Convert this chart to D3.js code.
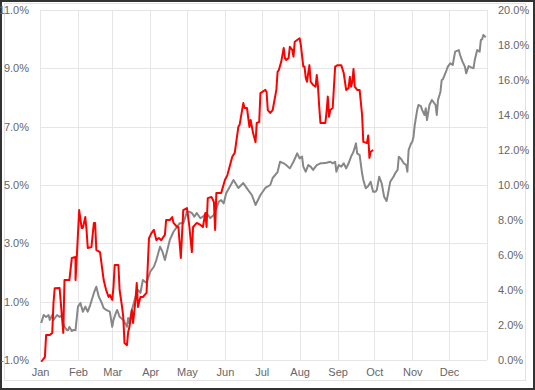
<!DOCTYPE html>
<html>
<head>
<meta charset="utf-8">
<script src="https://cdn.jsdelivr.net/npm/d3@7"></script>
<style>
  body { margin: 0; background: #fff; }
  svg { display: block; font-family: "Liberation Sans", Arial, sans-serif; }
</style>
</head>
<body>
<script>
var w = 535;
var h = 390;
var margin = {top: 10, right: 48, bottom: 30, left: 40};

// day of year (from Jan 1) and value in %
var redDays = [1,4,5,8,10,11,12,16,19,20,24,26,29,29,30,32,34,35,37,38,39,42,44,45,46,49,52,54,56,57,59,60,61,64,65,67,68,69,71,72,73,75,76,78,79,80,82,84,87,89,91,93,95,97,99,102,103,106,108,109,112,113,115,117,120,121,122,124,125,128,131,133,135,136,137,140,142,143,144,148,151,153,157,159,162,163,166,167,169,171,172,174,176,177,179,180,184,185,186,188,190,193,194,195,197,199,200,201,203,204,206,207,208,210,212,213,215,216,217,218,220,221,223,225,226,227,228,229,233,234,235,236,237,239,241,243,246,248,250,252,253,254,255,256,257,259,261,263,264,267,268,269,270,272];
var redValues = [-1.06,-0.90,-0.14,-0.14,-0.07,0.95,1.46,1.47,-0.07,1.74,1.74,2.50,2.53,1.74,2.50,4.14,3.53,3.53,3.90,3.46,2.84,2.87,3.70,3.70,2.77,2.70,1.74,1.40,1.16,1.23,1.06,1.50,2.26,2.26,1.40,0.82,0.47,-0.42,-0.49,-0.04,0.13,0.71,0.27,1.06,1.64,0.82,1.16,1.16,1.30,3.18,3.35,3.46,3.11,3.18,3.11,3.29,3.80,3.80,3.90,3.70,3.56,3.56,2.50,4.14,4.21,3.90,3.56,2.70,3.56,3.70,3.63,3.56,4.04,3.56,4.55,4.59,4.42,3.46,4.73,4.73,5.17,5.34,5.97,6.10,7.00,7.06,7.81,7.64,7.64,6.99,7.23,6.78,6.47,7.13,7.16,8.15,8.26,8.19,7.57,7.47,7.57,8.26,8.88,8.94,9.23,9.70,9.35,9.29,9.35,9.74,9.63,9.40,9.91,9.97,10.03,9.80,9.06,9.06,8.67,8.54,9.11,8.54,8.43,8.37,8.77,8.37,7.68,7.13,7.13,7.51,8.03,7.34,7.57,7.64,9.06,9.11,9.11,8.84,8.26,8.33,8.71,8.37,8.54,8.98,8.37,8.26,8.26,7.40,6.48,6.44,6.70,5.93,6.14,6.20];

var grayDays = [1,3,5,7,8,10,11,14,16,18,19,20,22,23,24,26,27,29,31,33,35,37,39,41,44,46,48,50,52,54,57,59,60,62,63,65,68,71,72,73,75,78,80,82,84,87,90,93,95,98,100,102,104,106,109,112,114,117,120,122,124,126,128,131,133,136,139,142,143,146,148,150,152,155,158,162,166,170,173,176,180,184,188,190,194,196,199,201,204,207,210,212,214,215,217,219,221,223,226,229,231,234,237,239,241,242,244,246,248,250,252,254,256,258,259,261,263,264,266,268,270,272,274,275,277,279,281,283,284,286,289,290,292,293,295,297,299,300,301,303,304,305,306,308,309,311,312,314,315,316,318,320,321,323,324,325,327,328,329,332,333,335,337,339,342,343,345,347,348,350,352,354,355,357,359,360,361,362,364];
var grayValues = [2.11,2.57,2.46,2.57,2.29,2.57,2.29,2.57,2.46,2.57,2.11,1.89,1.71,1.71,1.89,1.66,1.71,1.71,3.05,3.26,2.76,3.05,2.76,3.14,3.83,4.19,3.62,3.33,2.97,2.86,2.76,1.90,2.29,2.69,2.86,2.47,2.29,1.90,2.40,2.11,2.86,3.62,4.00,3.83,4.57,4.40,5.05,5.33,5.71,6.47,6.19,5.71,6.29,6.86,7.33,7.62,7.81,7.81,8.47,8.47,8.40,8.19,8.40,8.10,8.19,8.40,8.11,8.29,8.47,9.05,9.14,8.95,9.53,9.90,10.29,9.83,10.11,9.71,9.43,8.86,9.43,9.83,10.00,10.40,10.74,11.33,11.24,11.14,10.95,11.33,11.81,11.52,11.62,11.05,10.76,11.14,11.05,10.86,11.14,11.24,11.24,11.27,11.33,11.24,11.33,10.76,11.14,11.05,11.24,10.95,11.24,11.62,11.90,12.38,11.81,11.71,10.67,10.29,9.81,9.94,10.19,9.62,9.62,9.71,10.47,10.10,9.33,9.09,9.43,10.19,10.51,10.67,10.86,11.62,11.47,11.24,11.14,10.76,12.00,12.38,12.47,12.76,13.43,14.29,14.57,14.51,14.29,14.00,14.38,13.71,14.57,14.86,14.76,14.57,14.00,14.86,15.33,16.00,16.04,16.57,16.76,16.95,16.86,17.62,17.71,17.43,17.05,16.76,16.38,16.80,16.72,16.67,17.14,17.71,17.62,18.29,18.32,18.57,18.44];

var leftTicks = [-1, 1, 3, 5, 7, 9, 11];
var leftGrid = [-1, 0, 1, 3, 5, 7, 9, 11];
var rightTicks = [0, 2, 4, 6, 8, 10, 12, 14, 16, 18, 20];

var start = new Date(2019, 0, 1);
function dayToDate(d){ return d3.timeDay.offset(start, d); }

var svg = d3.select("body")
            .append("svg")
            .attr("width", w)
            .attr("height", h);

// frame
svg.append("rect")
   .attr("x", 1).attr("y", 1)
   .attr("width", w - 2).attr("height", h - 2)
   .attr("fill", "none")
   .attr("stroke", "#333")
   .attr("stroke-width", 2);
svg.append("rect")
   .attr("x", 4.5).attr("y", 3.5)
   .attr("width", 521).attr("height", 377)
   .attr("fill", "none")
   .attr("stroke", "#e3e3e3")
   .attr("stroke-width", 1);

var x = d3.scaleTime()
          .domain([start, new Date(2020, 0, 1)])
          .range([margin.left, w - margin.right]);
var yL = d3.scaleLinear().domain([-1, 11]).range([h - margin.bottom, margin.top]);
var yR = d3.scaleLinear().domain([0, 20]).range([h - margin.bottom, margin.top]);

/**** grid ****/
svg.append("g")
   .selectAll("line")
   .data(leftGrid)
   .enter()
   .append("line")
   .attr("x1", margin.left)
   .attr("x2", w - margin.right)
   .attr("y1", function(d){ return Math.round(yL(d)) + 0.5; })
   .attr("y2", function(d){ return Math.round(yL(d)) + 0.5; })
   .attr("stroke", "#e6e6e6");

var months = d3.timeMonth.range(start, new Date(2020, 0, 2));
svg.append("g")
   .selectAll("line")
   .data(months)
   .enter()
   .append("line")
   .attr("x1", function(d){ return Math.round(x(d)) + 0.5; })
   .attr("x2", function(d){ return Math.round(x(d)) + 0.5; })
   .attr("y1", margin.top)
   .attr("y2", h - margin.bottom)
   .attr("stroke", "#e6e6e6");

/**** axes ****/
var xAxis = d3.axisBottom(x)
              .tickValues(months.slice(0, 12))
              .tickFormat(d3.timeFormat("%b"))
              .tickSize(0)
              .tickPadding(8);
var gx = svg.append("g")
   .attr("transform", "translate(0," + (h - margin.bottom) + ")")
   .call(xAxis);

var gl = svg.append("g")
   .attr("transform", "translate(" + (margin.left - 8) + ",0)")
   .call(d3.axisLeft(yL).tickValues(leftTicks).tickSize(0)
          .tickFormat(function(d){ return d.toFixed(1) + "%"; }));

var gr = svg.append("g")
   .attr("transform", "translate(" + (w - margin.right + 8) + ",0)")
   .call(d3.axisRight(yR).tickValues(rightTicks).tickSize(0)
          .tickFormat(function(d){ return d.toFixed(1) + "%"; }));

[gx, gl, gr].forEach(function(g){
  g.select(".domain").remove();
  g.selectAll("text")
   .attr("fill", "#666")
   .style("font-size", "11px")
   .style("font-family", "'Liberation Sans', Arial, sans-serif");
});

/**** lines ****/
var grayData = grayDays.map(function(d, i){ return {date: dayToDate(d), v: grayValues[i]}; });
var redData = redDays.map(function(d, i){ return {date: dayToDate(d), v: redValues[i]}; });

svg.append("path")
   .datum(grayData)
   .attr("fill", "none")
   .attr("stroke", "#878787")
   .attr("stroke-width", 2)
   .attr("stroke-linejoin", "round")
   .attr("d", d3.line()
       .x(function(d){ return x(d.date); })
       .y(function(d){ return yR(d.v); }));

svg.append("path")
   .datum(redData)
   .attr("fill", "none")
   .attr("stroke", "#ff0000")
   .attr("stroke-width", 2)
   .attr("stroke-linejoin", "round")
   .attr("d", d3.line()
       .x(function(d){ return x(d.date); })
       .y(function(d){ return yL(d.v); }));
</script>
</body>
</html>
